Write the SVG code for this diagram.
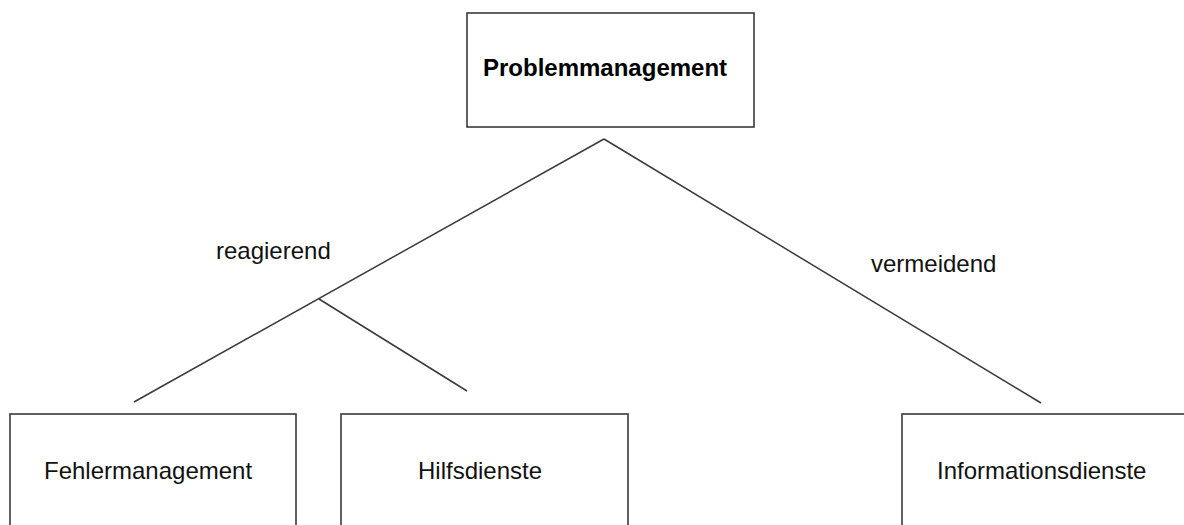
<svg xmlns="http://www.w3.org/2000/svg" width="1184" height="525" viewBox="0 0 1184 525">
  <style>
    .box { fill: #ffffff; stroke: #3a3a3a; stroke-width: 1.6; }
    .edge { stroke: #3a3a3a; stroke-width: 1.5; fill: none; }
    .lbl { font-family: "Liberation Sans", Arial, sans-serif; font-size: 24px; fill: #111111; }
    .title { font-family: "Liberation Sans", Arial, sans-serif; font-size: 24px; font-weight: bold; fill: #000000; }
  </style>
  <rect x="0" y="0" width="1184" height="525" fill="#ffffff"/>

  <!-- connectors -->
  <g id="connectors">
    <line class="edge" x1="604" y1="139" x2="134" y2="402"/>
    <line class="edge" x1="319" y1="299" x2="467" y2="391"/>
    <line class="edge" x1="604" y1="139" x2="1041" y2="403"/>
    <text class="lbl" x="216" y="259">reagierend</text>
    <text class="lbl" x="871" y="272">vermeidend</text>
  </g>

  <g id="problemmanagement">
    <rect class="box" x="467" y="13" width="287" height="114"/>
    <text class="title" x="483" y="76">Problemmanagement</text>
  </g>

  <g id="fehlermanagement">
    <rect class="box" x="10" y="414" width="286" height="130"/>
    <text class="lbl" x="44" y="479">Fehlermanagement</text>
  </g>

  <g id="hilfsdienste">
    <rect class="box" x="341" y="414" width="287" height="130"/>
    <text class="lbl" x="418" y="479">Hilfsdienste</text>
  </g>

  <g id="informationsdienste">
    <rect class="box" x="902" y="414" width="300" height="130"/>
    <text class="lbl" x="937" y="479">Informationsdienste</text>
  </g>
</svg>
